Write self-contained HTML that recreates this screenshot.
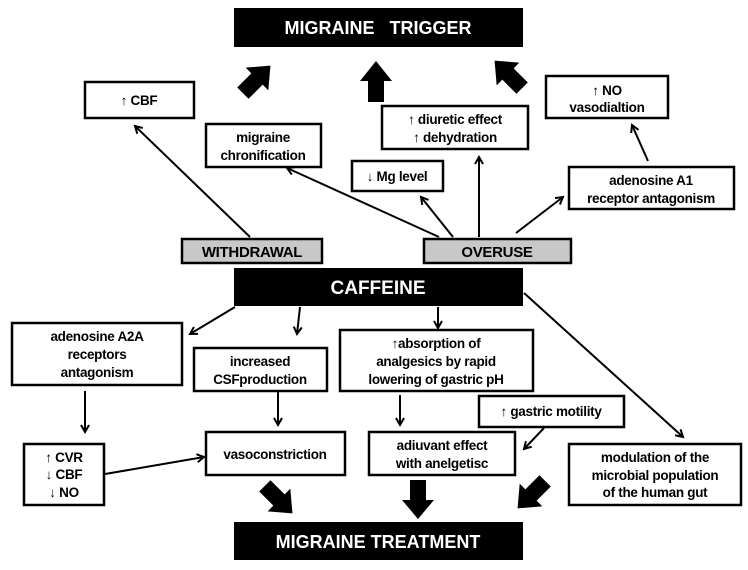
<!DOCTYPE html>
<html><head><meta charset="utf-8"><style>
body{margin:0;background:#fff}
svg{display:block;font-family:"Liberation Sans",Arial,sans-serif;font-weight:bold}
.b{fill:#fff;stroke:#000;stroke-width:2.5}
.g{fill:#c8c8c8;stroke:#000;stroke-width:2.5}
.k{fill:#000}
.t{font-size:13.5px;fill:#000;text-anchor:middle;letter-spacing:-0.3px}
.w{font-size:18px;fill:#fff;text-anchor:middle}
.l{stroke:#000;stroke-width:2;fill:none;marker-end:url(#ah)}
</style></head><body>
<svg width="748" height="570" viewBox="0 0 748 570">
<defs><marker id="ah" markerWidth="10" markerHeight="10" refX="8" refY="5" orient="auto" markerUnits="userSpaceOnUse"><path d="M1,1 L8,5 L1,9" fill="none" stroke="#000" stroke-width="2"/></marker>
<polygon id="big" points="-8,20 8,20 8,0 16,0 0,-19 -16,0 -8,0"/></defs>

<g><rect class="k" x="234" y="8" width="289" height="39"/><text class="w" x="378" y="34">MIGRAINE&#160;&#160;&#160;TRIGGER</text></g>
<g><rect class="b" x="85" y="82" width="109" height="36"/><text class="t" x="139" y="105">↑ CBF</text></g>
<g><rect class="b" x="206" y="124" width="115" height="43"/><text class="t" x="263" y="142">migraine</text><text class="t" x="263" y="160">chronification</text></g>
<g><rect class="b" x="382" y="106" width="146" height="43"/><text class="t" x="455" y="124">↑ diuretic effect</text><text class="t" x="455" y="142">↑ dehydration</text></g>
<g><rect class="b" x="352" y="161" width="91" height="30"/><text class="t" x="397" y="181">↓ Mg level</text></g>
<g><rect class="b" x="546" y="76" width="122" height="42"/><text class="t" x="607" y="95">↑ NO</text><text class="t" x="607" y="112">vasodialtion</text></g>
<g><rect class="b" x="569" y="167" width="165" height="42"/><text class="t" x="651" y="185">adenosine A1</text><text class="t" x="651" y="203">receptor antagonism</text></g>
<g><rect class="g" x="182" y="239" width="140" height="24"/><text class="t" x="252" y="257" style="font-size:15px">WITHDRAWAL</text></g>
<g><rect class="g" x="424" y="239" width="147" height="24"/><text class="t" x="497" y="257" style="font-size:15px">OVERUSE</text></g>
<g><rect class="k" x="234" y="268" width="289" height="38"/><text class="w" x="378" y="294" style="font-size:19px">CAFFEINE</text></g>

<use href="#big" transform="translate(257,79) rotate(45)"/>
<use href="#big" transform="translate(376,81) scale(1,1.05)"/>
<use href="#big" transform="translate(508,74) rotate(-45)"/>

<line class="l" x1="250" y1="237" x2="135" y2="126"/>
<line class="l" x1="439" y1="237" x2="287" y2="168"/>
<line class="l" x1="453" y1="237" x2="421" y2="197"/>
<line class="l" x1="479" y1="237" x2="479" y2="157"/>
<line class="l" x1="516" y1="233" x2="563" y2="197"/>
<line class="l" x1="648" y1="161" x2="632" y2="125"/>

<g><rect class="b" x="12" y="323" width="170" height="62"/><text class="t" x="97" y="341">adenosine A2A</text><text class="t" x="97" y="359">receptors</text><text class="t" x="97" y="377">antagonism</text></g>
<g><rect class="b" x="194" y="348" width="133" height="43"/><text class="t" x="260" y="366">increased</text><text class="t" x="260" y="384">CSFproduction</text></g>
<g><rect class="b" x="340" y="330" width="193" height="61"/><text class="t" x="436" y="348">↑absorption of</text><text class="t" x="436" y="366">analgesics by rapid</text><text class="t" x="436" y="384">lowering of gastric pH</text></g>
<g><rect class="b" x="479" y="396" width="145" height="31"/><text class="t" x="551" y="416">↑ gastric motility</text></g>
<g><rect class="b" x="24" y="444" width="80" height="61"/><text class="t" x="64" y="462">↑ CVR</text><text class="t" x="64" y="479">↓ CBF</text><text class="t" x="64" y="497">↓ NO</text></g>
<g><rect class="b" x="206" y="432" width="139" height="43"/><text class="t" x="275" y="459">vasoconstriction</text></g>
<g><rect class="b" x="369" y="432" width="146" height="43"/><text class="t" x="442" y="450">adiuvant effect</text><text class="t" x="442" y="468">with anelgetisc</text></g>
<g><rect class="b" x="569" y="444" width="172" height="61"/><text class="t" x="655" y="462">modulation of the</text><text class="t" x="655" y="480">microbial population</text><text class="t" x="655" y="497">of the human gut</text></g>
<g><rect class="k" x="234" y="522" width="289" height="38"/><text class="w" x="378" y="548">MIGRAINE TREATMENT</text></g>

<line class="l" x1="235" y1="307" x2="190" y2="334"/>
<line class="l" x1="300" y1="307" x2="297" y2="334"/>
<line class="l" x1="438" y1="307" x2="438" y2="328"/>
<line class="l" x1="524" y1="293" x2="683" y2="437"/>
<line class="l" x1="85" y1="391" x2="85" y2="432"/>
<line class="l" x1="278" y1="392" x2="278" y2="425"/>
<line class="l" x1="400" y1="395" x2="400" y2="425"/>
<line class="l" x1="544" y1="428" x2="524" y2="449"/>
<line class="l" x1="105" y1="474" x2="204" y2="457"/>

<use href="#big" transform="translate(279,500) rotate(135)"/>
<use href="#big" transform="translate(418,500) rotate(180)"/>
<use href="#big" transform="translate(531,495) rotate(-135)"/>
</svg>
</body></html>
